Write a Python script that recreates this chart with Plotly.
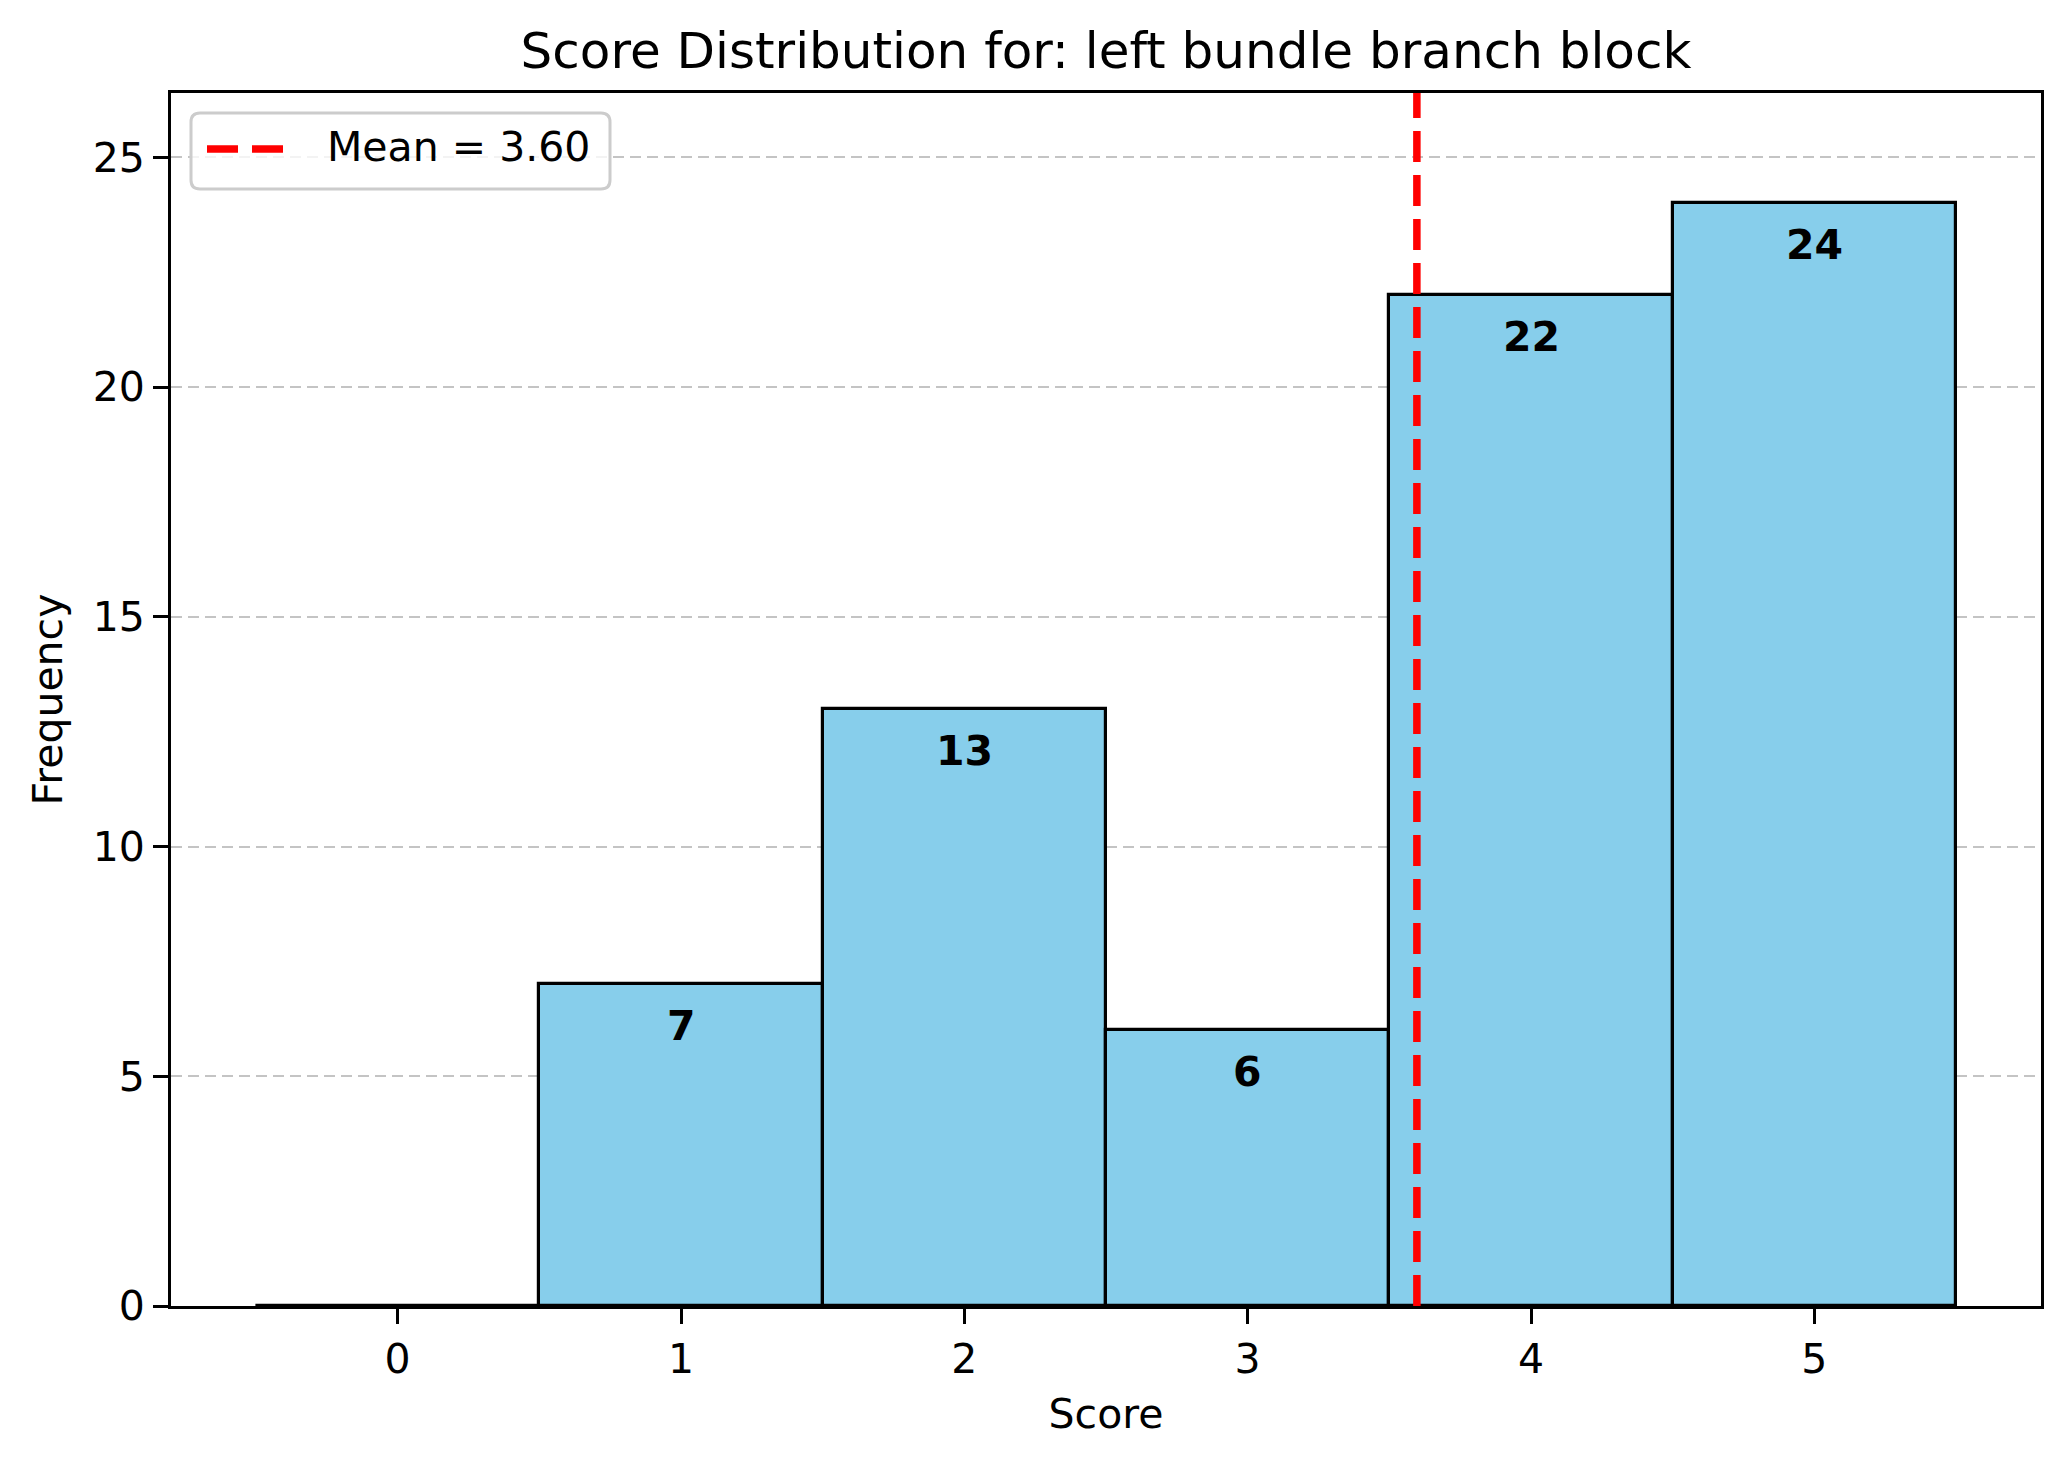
import plotly.graph_objects as go

scores = [0, 1, 2, 3, 4, 5]
counts = [0, 7, 13, 6, 22, 24]
title_text = "Score Distribution for: left bundle branch block"
x_label = "Score"
y_label = "Frequency"
y_ticks = [0, 5, 10, 15, 20, 25]

total = sum(counts)
mean_score = sum(s * c for s, c in zip(scores, counts)) / total
y_max = max(counts) * 1.1
legend_label = f"Mean = {mean_score:.2f}"

FONT = "DejaVu Sans"
# page is offset by the 8px body margin
W, H = 2062, 1458
L, R, T, B = 163, 29, 85, 160
PX0, PY0 = 171, 1306          # page px of plot-area origin (left, bottom)
PW, PH = 1870, 1213           # plot area size in px


def px(xp):
    return (xp - PX0) / PW


def py(yp):
    return (PY0 - yp) / PH


fig = go.Figure()
fig.add_trace(go.Bar(
    x=scores, y=counts, width=1.0,
    marker=dict(color="#87CEEB", line=dict(color="black", width=3.2)),
    showlegend=False, hoverinfo="x+y",
))
fig.add_trace(go.Scatter(
    x=[mean_score, mean_score], y=[0, y_max], mode="lines",
    line=dict(color="#ff0000", width=7.5, dash="31px,13px"),
    name=legend_label, showlegend=False,
))

for s, c in zip(scores, counts):
    if c > 0:
        fig.add_annotation(
            x=s, y=c, xref="x", yref="y", text=f"<b>{c}</b>",
            showarrow=False, yshift=-42, yanchor="middle",
            font=dict(family=FONT, size=41, color="black"),
        )

# manual legend (matplotlib-style box)
bx0, bx1, by0, by1, rr = 191, 610, 113, 189, 9
path = (
    f"M {px(bx0 + rr)},{py(by0)} L {px(bx1 - rr)},{py(by0)} "
    f"Q {px(bx1)},{py(by0)} {px(bx1)},{py(by0 + rr)} "
    f"L {px(bx1)},{py(by1 - rr)} Q {px(bx1)},{py(by1)} {px(bx1 - rr)},{py(by1)} "
    f"L {px(bx0 + rr)},{py(by1)} Q {px(bx0)},{py(by1)} {px(bx0)},{py(by1 - rr)} "
    f"L {px(bx0)},{py(by0 + rr)} Q {px(bx0)},{py(by0)} {px(bx0 + rr)},{py(by0)} Z"
)
fig.add_shape(type="path", path=path, xref="paper", yref="paper",
              fillcolor="rgba(255,255,255,0.8)",
              line=dict(color="#cccccc", width=3), layer="above")
fig.add_shape(type="line", xref="paper", yref="paper",
              x0=px(207), x1=px(283), y0=py(149), y1=py(149),
              line=dict(color="#ff0000", width=7.5, dash="31px,14px"), layer="above")
fig.add_annotation(x=px(325), y=py(147), xref="paper", yref="paper",
                   text=legend_label, showarrow=False, xanchor="left", yanchor="middle",
                   font=dict(family=FONT, size=41, color="black"))

fig.update_layout(
    width=W, height=H,
    margin=dict(l=L, r=R, t=T, b=B),
    paper_bgcolor="white", plot_bgcolor="white",
    font=dict(family=FONT, size=41, color="black"),
    title=dict(
        text=title_text, x=(L + (W - L - R) / 2) / W, xanchor="center",
        y=1 - 60 / H, yanchor="bottom", yref="container",
        font=dict(family=FONT, size=50, color="black"),
    ),
    showlegend=False,
    bargap=0,
)
fig.update_xaxes(
    range=[-0.8, 5.8], tickmode="array", tickvals=scores,
    ticktext=[str(s) for s in scores],
    showgrid=False, zeroline=False,
    showline=True, linecolor="black", linewidth=3, mirror=True,
    ticks="outside", ticklen=15, tickwidth=3, tickcolor="black",
    tickfont=dict(family=FONT, size=41),
    title=dict(text=x_label, font=dict(family=FONT, size=41), standoff=18),
)
fig.update_yaxes(
    range=[0, y_max], tickmode="array", tickvals=y_ticks,
    ticktext=[str(v) for v in y_ticks],
    showgrid=True, gridcolor="#c4c4c4", gridwidth=2.2, griddash="11px,6px",
    zeroline=False,
    showline=True, linecolor="black", linewidth=3, mirror=True,
    ticks="outside", ticklen=15, tickwidth=3, tickcolor="black",
    tickfont=dict(family=FONT, size=41),
    title=dict(text=y_label, font=dict(family=FONT, size=41), standoff=18),
)

fig.write_html("out.html")
